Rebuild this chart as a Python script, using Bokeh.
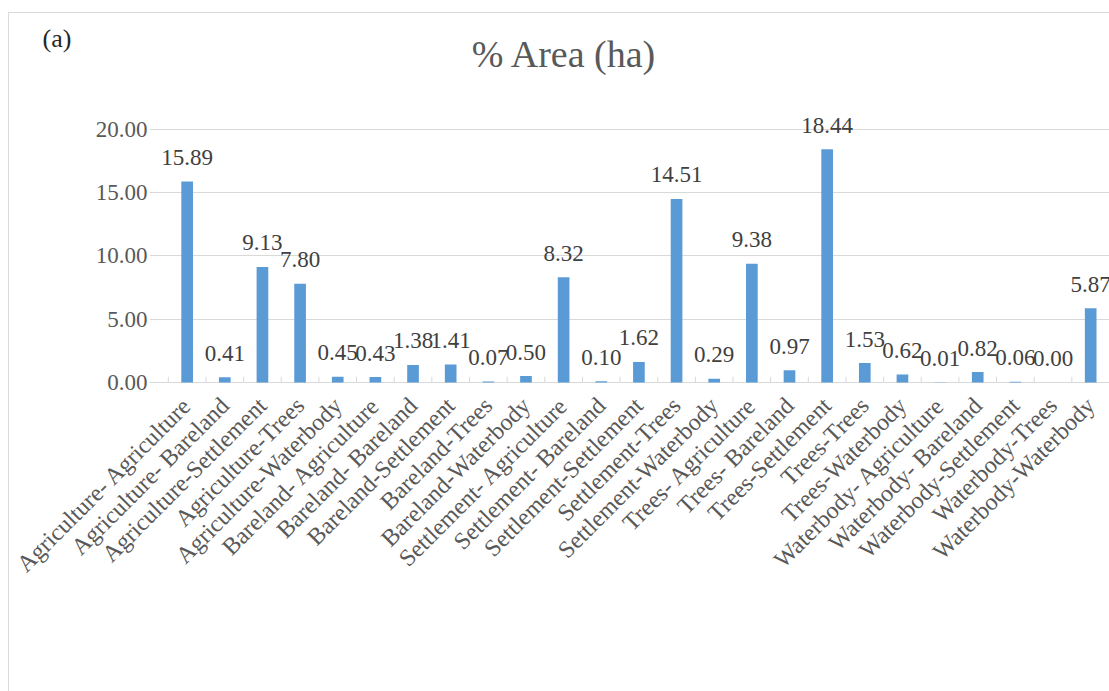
import math
from bokeh.plotting import figure
from bokeh.models import (ColumnDataSource, Range1d, FixedTicker, NumeralTickFormatter,
                          LabelSet, Label)
from bokeh.embed import file_html
from bokeh.resources import INLINE

categories = ["Agriculture- Agriculture", "Agriculture- Bareland", "Agriculture-Settlement",
              "Agriculture-Trees", "Agriculture-Waterbody", "Bareland- Agriculture",
              "Bareland- Bareland", "Bareland-Settlement", "Bareland-Trees", "Bareland-Waterbody",
              "Settlement- Agriculture", "Settlement- Bareland", "Settlement-Settlement",
              "Settlement-Trees", "Settlement-Waterbody", "Trees- Agriculture", "Trees- Bareland",
              "Trees-Settlement", "Trees-Trees", "Trees-Waterbody", "Waterbody- Agriculture",
              "Waterbody- Bareland", "Waterbody-Settlement", "Waterbody-Trees", "Waterbody-Waterbody"]
values = [15.89, 0.41, 9.13, 7.80, 0.45, 0.43, 1.38, 1.41, 0.07, 0.50, 8.32, 0.10, 1.62,
          14.51, 0.29, 9.38, 0.97, 18.44, 1.53, 0.62, 0.01, 0.82, 0.06, 0.00, 5.87]
y_ticks = [0, 5, 10, 15, 20]
title_text = "% Area (ha)"
panel_tag = "(a)"

FONT = "Liberation Serif"
n = len(categories)
centers = [i + 0.5 for i in range(n)]
bounds = list(range(n + 1))

src = ColumnDataSource(dict(x=centers, top=values, lab=[f"{v:.2f}" for v in values]))

p = figure(width=1101, height=679, output_backend="svg", toolbar_location=None,
           x_range=Range1d(-0.5, n), y_range=Range1d(-0.4, 22.29), title=None,
           min_border_left=140, min_border_right=1, min_border_top=87, min_border_bottom=305,
           background_fill_color="white", border_fill_color="white")
p.margin = (12, 0, 0, 8)
p.styles = {"border-left": "1px solid #d9d9d9", "border-top": "1px solid #d9d9d9"}
p.outline_line_color = None

p.vbar(x="x", top="top", width=0.31, bottom=0, source=src, fill_color="#5B9BD5", line_color=None)

# category boundary tick marks on the baseline
p.segment(x0=bounds, y0=[0] * (n + 1), x1=bounds, y1=[0.45] * (n + 1), line_color="#d9d9d9", line_width=1)

p.xgrid.visible = False
p.ygrid.ticker = FixedTicker(ticks=y_ticks)
p.ygrid.bounds = (0, n)
p.ygrid.grid_line_color = "#d9d9d9"
p.ygrid.grid_line_width = 1

# y axis
p.yaxis.ticker = FixedTicker(ticks=y_ticks)
p.yaxis.formatter = NumeralTickFormatter(format="0.00")
p.yaxis.axis_line_color = None
p.yaxis.major_tick_line_color = None
p.yaxis.minor_tick_line_color = None
p.yaxis.major_tick_out = 0
p.yaxis.major_label_standoff = 2
p.yaxis.major_label_text_font = FONT
p.yaxis.major_label_text_font_size = "23px"
p.yaxis.major_label_text_color = "#595959"

# x axis
p.xaxis.ticker = FixedTicker(ticks=centers)
p.xaxis.major_label_overrides = {c: lab for c, lab in zip(centers, categories)}
p.xaxis.axis_line_color = None
p.xaxis.major_tick_line_color = None
p.xaxis.minor_tick_line_color = None
p.xaxis.major_tick_out = 0
p.xaxis.major_label_standoff = 14
p.xaxis.major_label_orientation = math.pi / 4
p.xaxis.major_label_text_font = FONT
p.xaxis.major_label_text_font_size = "24px"
p.xaxis.major_label_text_color = "#595959"

labels = LabelSet(x="x", y="top", text="lab", source=src, y_offset=24,
                  text_align="center", text_baseline="middle",
                  text_font=FONT, text_font_size="23px", text_color="#404040")
p.add_layout(labels)

p.add_layout(Label(x=415, y=47, x_units="screen", y_units="screen", text=title_text,
                   text_align="center", text_baseline="alphabetic", text_font=FONT,
                   text_font_size="38px", text_color="#595959"), "above")
p.add_layout(Label(x=-107, y=20, x_units="screen", y_units="screen", text=panel_tag,
                   text_align="left", text_baseline="alphabetic", text_font=FONT,
                   text_font_size="26px", text_color="#262626"), "above")

open("out.html", "w").write(file_html(p, INLINE))
